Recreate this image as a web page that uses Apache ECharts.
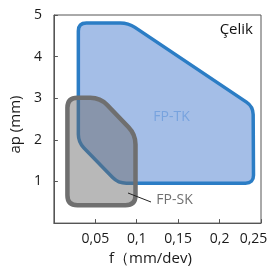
<!DOCTYPE html>
<html>
<head>
<meta charset="utf-8">
<script src="https://cdn.jsdelivr.net/npm/echarts@6/dist/echarts.min.js"></script>
<style>html,body{margin:0;padding:0;background:#fff}#c{width:271px;height:271px}</style>
</head>
<body>
<div id="c"></div>
<script>
// ---- data ----
const xTicks = [0, 0.05, 0.1, 0.15, 0.2, 0.25];
const yTicks = [0, 1, 2, 3, 4, 5];
const tkF  = [0.0295, 0.0898, 0.2405, 0.2410, 0.0777, 0.0295];
const tkAp = [4.81, 4.81, 2.80, 0.96, 0.96, 1.94];
const skF  = [0.0163, 0.0560, 0.0985, 0.0985, 0.0163];
const skAp = [3.01, 3.01, 2.13, 0.43, 0.43];
const xTitle = 'f（mm/dev)';
const yTitle = 'ap (mm)';
const material = 'Çelik';
const tkName = 'FP-TK';
const skName = 'FP-SK';

const FONT = '"Open Sans", sans-serif';

function roundedPath(pts, r) {
  let d = '';
  const n = pts.length;
  for (let i = 0; i < n; i++) {
    const p = pts[(i - 1 + n) % n], c = pts[i], q = pts[(i + 1) % n];
    const d1 = Math.hypot(p[0] - c[0], p[1] - c[1]);
    const d2 = Math.hypot(q[0] - c[0], q[1] - c[1]);
    const r1 = Math.min(r, d1 / 2), r2 = Math.min(r, d2 / 2);
    const a = [c[0] + (p[0] - c[0]) * r1 / d1, c[1] + (p[1] - c[1]) * r1 / d1];
    const b = [c[0] + (q[0] - c[0]) * r2 / d2, c[1] + (q[1] - c[1]) * r2 / d2];
    d += (i === 0 ? 'M' : 'L') + a[0].toFixed(2) + ' ' + a[1].toFixed(2) +
         ' Q' + c[0].toFixed(2) + ' ' + c[1].toFixed(2) + ' ' + b[0].toFixed(2) + ' ' + b[1].toFixed(2) + ' ';
  }
  return d + 'Z';
}

function polySeries(name, fs, aps, radius, style) {
  return {
    type: 'custom',
    name: name,
    coordinateSystem: 'cartesian2d',
    data: fs.map((f, i) => [f, aps[i]]),
    encode: { x: 0, y: 1 },
    silent: true,
    renderItem: function (params, api) {
      if (params.dataIndex !== 0) return null;
      const pts = fs.map((f, i) => api.coord([f, aps[i]]));
      return {
        type: 'path',
        shape: { pathData: roundedPath(pts, radius) },
        style: style
      };
    }
  };
}

const chart = echarts.init(document.getElementById('c'), null, { renderer: 'canvas' });
chart.setOption({
  animation: false,
  grid: { left: 53, right: 10, top: 15, bottom: 47, show: true, borderColor: '#555', borderWidth: 1, backgroundColor: 'transparent' },
  xAxis: {
    type: 'value', min: 0, max: 0.25, interval: 0.05,
    name: xTitle, nameLocation: 'middle', nameGap: 26,
    nameTextStyle: { fontFamily: FONT, fontSize: 15, color: '#1a1a1a', padding: [0, 14, 0, 0] },
    axisLine: { show: true, lineStyle: { color: '#555', width: 1 } },
    axisTick: { show: true, inside: true, length: 4, lineStyle: { color: '#555' } },
    splitLine: { show: false },
    axisLabel: {
      margin: 9, fontFamily: FONT, fontSize: 14, color: '#1a1a1a',
      formatter: function (v) {
        if (v === 0) return '';
        const s = String(+v.toFixed(2)).replace('.', ',');
        return v >= 0.25 - 1e-9 ? '{last|' + s + '}' : s;
      },
      rich: { last: { fontFamily: FONT, fontSize: 14, color: '#1a1a1a', padding: [0, 15, 0, 0] } }
    }
  },
  yAxis: {
    type: 'value', min: 0, max: 5, interval: 1,
    name: yTitle, nameLocation: 'middle', nameGap: 30, nameRotate: 90,
    nameTextStyle: { fontFamily: FONT, fontSize: 15, color: '#1a1a1a', padding: [0, 11, 0, 0] },
    axisLine: { show: true, lineStyle: { color: '#555', width: 1 } },
    axisTick: { show: true, inside: true, length: 4, lineStyle: { color: '#555' } },
    splitLine: { show: false },
    axisLabel: {
      margin: 12, fontFamily: FONT, fontSize: 14, color: '#1a1a1a',
      formatter: function (v) { return v === 0 ? '' : String(v); }
    }
  },
  series: [
    polySeries(tkName, tkF, tkAp, 8, { fill: '#a4bee7', stroke: '#2b7dc5', lineWidth: 3.5, lineJoin: 'round' }),
    polySeries(skName, skF, skAp, 10, { fill: 'rgba(105,105,105,0.47)', stroke: '#6f6f6f', lineWidth: 4.5, lineJoin: 'round' })
  ],
  graphic: [
    { type: 'text', right: 18, top: 22, z: 100, style: { text: material, fontFamily: FONT, fontSize: 15, fill: '#111' } },
    { type: 'text', x: 171.5, y: 117, z: 100, style: { text: tkName, fontFamily: FONT, fontSize: 14, fill: '#78a3de', align: 'center', verticalAlign: 'middle' } },
    { type: 'text', x: 174.5, y: 200.5, z: 100, style: { text: skName, fontFamily: FONT, fontSize: 14, fill: '#707070', align: 'center', verticalAlign: 'middle' } },
    { type: 'line', z: 100, shape: { x1: 128, y1: 193, x2: 151, y2: 202 }, style: { stroke: '#222', lineWidth: 1 } }
  ]
});
</script>
</body>
</html>
